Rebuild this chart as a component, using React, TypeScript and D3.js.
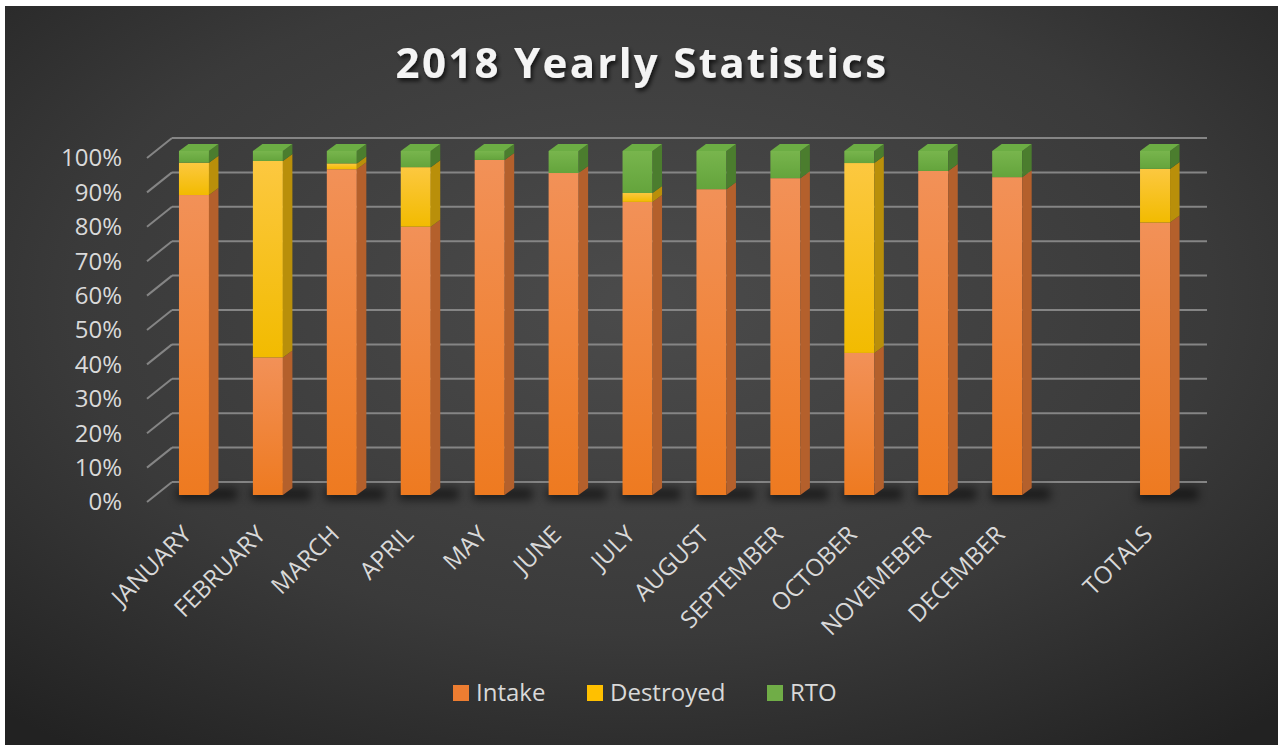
import React from "react";
import * as d3 from "d3";

const categories = [
  "JANUARY", "FEBRUARY", "MARCH", "APRIL", "MAY", "JUNE", "JULY",
  "AUGUST", "SEPTEMBER", "OCTOBER", "NOVEMEBER", "DECEMBER", "", "TOTALS",
];
const intake = [87.2, 40, 94.7, 78, 97.4, 93.6, 85.2, 88.9, 92.1, 41.3, 94.2, 92.4, 0, 79.2];
const destroyed = [9.4, 57.1, 1.7, 17.3, 0, 0, 2.6, 0, 0, 55.2, 0, 0, 0, 15.6];
const rto = [3.4, 2.9, 3.6, 4.7, 2.6, 6.4, 12.2, 11.1, 7.9, 3.5, 5.8, 7.6, 0, 5.2];
const seriesNames = ["Intake", "Destroyed", "RTO"];
const yTicks = [0, 0.1, 0.2, 0.3, 0.4, 0.5, 0.6, 0.7, 0.8, 0.9, 1];

const W = 1278;
const H = 745;
const FONT = "'Open Sans', sans-serif";
// 3d offsets
const BAR_DX = 9.5;
const BAR_DY = -7;
const FRONT = { dx: -10, dy: 7 };
const BACK = { dx: 15, dy: -13 };

const colors = [
  { top: "#f29158", bottom: "#ee7a20", side: "#b4602c", cap: "#f39a62" },
  { top: "#fcc840", bottom: "#f2bb00", side: "#b98f0a", cap: "#ffd257" },
  { top: "#78b54d", bottom: "#64a43c", side: "#4b7d2e", cap: "#6cad44" },
];
const legendSwatch = ["#ed7d31", "#ffc000", "#70ad47"];

const App = () => {
  const x = d3.scaleBand().domain(d3.range(categories.length).map(String)).range([157, 1192]);
  const y = d3.scaleLinear().domain([0, 1]).range([495, 151]);

  const rows = categories.map((c, i) => ({
    key: String(i),
    Intake: intake[i],
    Destroyed: destroyed[i],
    RTO: rto[i],
  }));
  const stacked = d3.stack<any>().keys(seriesNames).offset(d3.stackOffsetExpand)(rows);

  const barW = 30;

  const bars: React.ReactNode[] = [];
  categories.forEach((c, i) => {
    const total = intake[i] + destroyed[i] + rto[i];
    if (total === 0) return;
    const cx = x(String(i))! + x.bandwidth() / 2;
    const x0 = cx - barW / 2;
    const x1 = cx + barW / 2;
    // floor shadow
    bars.push(
      <rect
        key={`sh${i}`}
        x={x0 - 2}
        y={y(0) - 7}
        width={barW + 30}
        height={12}
        fill="#000"
        opacity={0.55}
        filter="url(#blur)"
      />
    );
    let lastTop = 0;
    let lastK = 0;
    stacked.forEach((s, k) => {
      const d = s[i];
      if (!(d[1] - d[0] > 0)) return;
      const yT = y(d[1]);
      const yB = y(d[0]);
      bars.push(
        <g key={`b${i}-${k}`}>
          <rect x={x0} y={yT} width={barW} height={yB - yT} fill={`url(#g${k})`} />
          <polygon
            points={`${x1},${yT} ${x1 + BAR_DX},${yT + BAR_DY} ${x1 + BAR_DX},${yB + BAR_DY} ${x1},${yB}`}
            fill={colors[k].side}
          />
        </g>
      );
      lastTop = yT;
      lastK = k;
    });
    bars.push(
      <polygon
        key={`t${i}`}
        points={`${x0},${lastTop} ${x1},${lastTop} ${x1 + BAR_DX},${lastTop + BAR_DY} ${x0 + BAR_DX},${lastTop + BAR_DY}`}
        fill={colors[lastK].cap}
      />
    );
  });

  const gx0 = x.range()[0];
  const gx1 = x.range()[1];

  return (
    <div style={{ position: "absolute", left: 0, top: 0 }}>
      <svg width={W} height={H} style={{ display: "block" }}>
        <defs>
          <radialGradient id="bg" cx="0.5" cy="0.4" r="0.75">
            <stop offset="0" stopColor="#4b4b4b" />
            <stop offset="0.6" stopColor="#3a3a3a" />
            <stop offset="1" stopColor="#222222" />
          </radialGradient>
          {colors.map((c, k) => (
            <linearGradient key={k} id={`g${k}`} x1="0" y1="0" x2="0" y2="1">
              <stop offset="0" stopColor={c.top} />
              <stop offset="1" stopColor={c.bottom} />
            </linearGradient>
          ))}
          <filter id="blur" x="-50%" y="-150%" width="200%" height="400%">
            <feGaussianBlur stdDeviation="5" />
          </filter>
          <filter id="tshadow" x="-10%" y="-30%" width="120%" height="160%">
            <feDropShadow dx="2" dy="3" stdDeviation="2" floodColor="#000" floodOpacity="0.7" />
          </filter>
        </defs>
        <rect width={W} height={H} fill="#ffffff" />
        <rect x={5} y={6} width={W - 5} height={H - 6} fill="url(#bg)" />

        <text
          x={642}
          y={78}
          textAnchor="middle"
          fill="#f4f4f4"
          fontFamily={FONT}
          fontWeight={700}
          fontSize={42}
          letterSpacing={2.3}
          filter="url(#tshadow)"
        >
          2018 Yearly Statistics
        </text>

        {/* gridlines */}
        {yTicks.map((t) => (
          <g key={t} stroke="#858585" strokeWidth={2} fill="none">
            <line x1={gx0 + FRONT.dx} y1={y(t) + FRONT.dy} x2={gx0 + BACK.dx} y2={y(t) + BACK.dy} />
            <line x1={gx0 + BACK.dx} y1={y(t) + BACK.dy} x2={gx1 + BACK.dx} y2={y(t) + BACK.dy} />
          </g>
        ))}
        {yTicks.map((t) => (
          <text
            key={`l${t}`}
            x={122}
            y={y(t) + FRONT.dy}
            dy="0.35em"
            textAnchor="end"
            fill="#d9d9d9"
            fontFamily={FONT}
            fontSize={24}
          >
            {d3.format(".0%")(t)}
          </text>
        ))}

        {bars}

        {categories.map((c, i) => {
          const cx = x(String(i))! + x.bandwidth() / 2;
          return (
            <text
              key={`c${i}`}
              transform={`translate(${cx - 1},${536}) rotate(-45)`}
              textAnchor="end"
              fill="#d9d9d9"
              fontFamily={FONT}
              fontSize={24}
            >
              {c}
            </text>
          );
        })}

        {/* legend */}
        {seriesNames.map((n, k) => {
          const lx = [453, 587, 767][k];
          return (
            <g key={n}>
              <rect x={lx} y={685} width={16} height={16} fill={legendSwatch[k]} />
              <text x={lx + 23} y={693} dy="0.35em" fill="#d9d9d9" fontFamily={FONT} fontSize={24}>
                {n}
              </text>
            </g>
          );
        })}
      </svg>
    </div>
  );
};

export default App;
